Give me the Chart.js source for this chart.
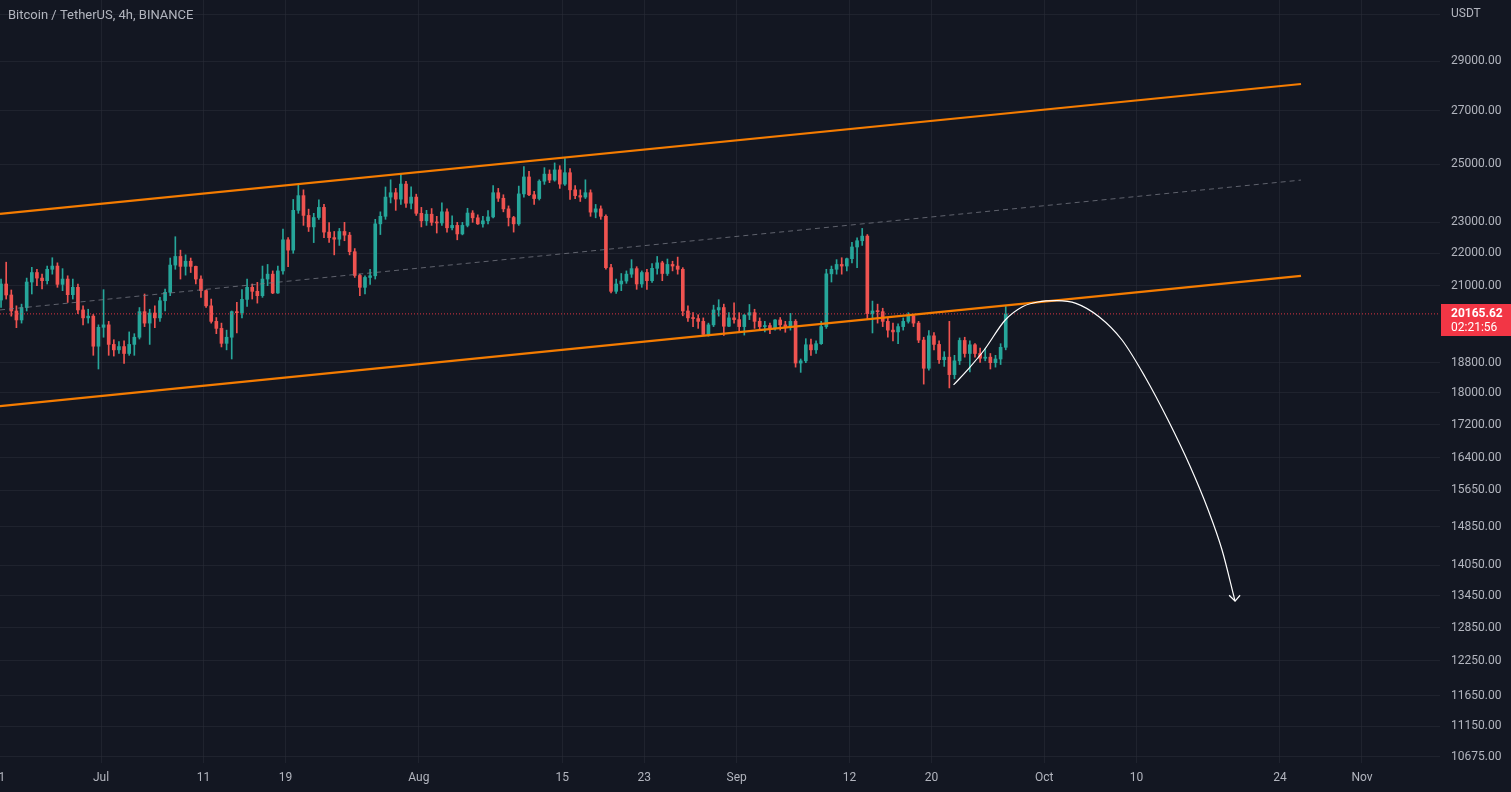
<!DOCTYPE html>
<html>
<head>
<meta charset="utf-8">
<script src="https://cdn.jsdelivr.net/npm/chart.js@4.4.1/dist/chart.umd.min.js"></script>
<style>
  html, body { margin: 0; padding: 0; background: #131722; }
  #wrap { width: 1511px; height: 792px; position: relative; }
</style>
</head>
<body>
<div id="wrap"><canvas id="c"></canvas></div>
<script>
// ---------------- DATA ----------------
const chartTitle = 'Bitcoin / TetherUS, 4h, BINANCE';
const currencyLabel = 'USDT';
const firstCandle = '2022-06-21T00:00:00Z';
const candleHours = 12;

const opens = [20570,21050,20720,20250,19990,20350,21110,21400,21230,21150,21500,21600,21040,21200,20730,20950,20280,20050,20100,19250,
19780,19850,19300,19150,19240,19050,19300,19500,20230,19900,20190,20050,20550,20800,21630,21900,21590,21750,21590,21200,
20850,20400,19950,19750,19330,19500,20230,20200,20590,20950,20830,20700,21200,21350,20780,21450,22430,22100,23400,23900,
23230,22850,23160,23500,22680,22500,22450,22700,22580,22050,21310,20950,21250,21300,22950,23200,23850,24000,23780,24300,
23640,23850,23300,23050,23270,23000,22980,23350,22820,22900,22620,22900,23310,23150,22950,23050,23180,24000,23810,23450,
23160,22950,23960,24550,23930,23800,24400,24650,24440,24800,24300,24700,24100,23900,23850,24000,23340,23450,23200,21550,
20830,21050,21140,21350,21520,21050,21400,21150,21530,21700,21370,21650,21600,21500,20250,20050,20030,19950,19580,19850,
20280,20350,19810,20050,20000,19800,20130,20200,19950,19800,19830,19750,19990,19850,19800,19950,18790,18850,19290,19150,
19320,19800,21360,21500,21650,21600,21830,22200,22400,22550,20170,20250,20230,19950,19700,19650,19800,19950,20110,19900,
19420,18650,19540,19300,18880,18950,18480,18850,19410,19050,19290,19050,18920,18950,18800,18900,19220];
const highs = [21200,21720,20870,20400,20450,21230,21560,21500,21350,21600,21860,21700,21520,21300,21200,21050,20400,20300,20150,19850,
20880,19950,19430,19380,19400,19650,19600,20350,20750,20300,20400,20650,20900,21850,22530,22100,21950,21850,21600,21300,
20870,20600,20060,19900,19700,20250,20500,20880,21200,21050,21100,21600,21650,21450,21600,22780,22500,23770,24280,24100,
23440,23300,23760,23600,22990,22700,22800,23000,22670,22150,21350,21300,21500,23100,23350,24200,24450,24150,24670,24400,
24200,23950,23500,23400,23460,23200,23650,23450,23220,23000,23000,23470,23390,23250,23200,23390,24250,24150,23930,23550,
23200,24230,24920,24750,24050,24450,24880,24800,25050,24950,25210,24850,24250,24100,24450,24100,23600,23550,23250,21650,
21200,21370,21450,21800,21580,21450,21500,21680,21900,21750,21820,21750,21880,21550,20400,20200,20140,20050,19900,20420,
20580,20450,20200,20490,20200,20150,20440,20300,20050,19950,19900,20000,20060,19950,20180,20000,18900,19460,19450,19400,
19950,21500,21600,21800,21860,21850,22350,22490,22800,22600,20540,20450,20330,20050,19900,19880,20050,20200,20150,19950,
19500,19690,19630,19400,19100,19950,19000,19480,19500,19400,19320,19200,19180,19050,19000,19320,20380];
const lows = [20350,20600,20100,19770,19900,20250,20750,21000,20900,21050,21350,20950,20850,20500,20600,20170,19850,19900,19000,18630,
19500,19000,18980,19050,18780,19000,19000,19450,19800,19300,19770,19950,20250,20700,21500,21200,21320,21400,21050,20650,
20350,19900,19600,19230,19150,18900,19620,20050,20380,20600,20480,20650,21000,20760,20770,21350,21580,22000,23300,22900,
22700,22340,23100,22500,22350,21950,22250,22400,21950,21250,20700,20750,21040,21200,22600,23100,23650,23400,23600,23500,
23450,23230,22850,22900,22900,22650,22900,22680,22750,22430,22590,22850,23000,22930,22840,22950,23150,23700,23350,22880,
22680,22900,23850,23900,23600,23750,24290,24350,24400,24150,24250,23770,23800,23700,23800,23200,23150,23100,21500,20780,
20770,20850,21070,21250,20890,20950,20890,21100,21350,21150,21310,21450,21350,20110,19950,19800,19750,19550,19530,19800,
20100,19550,19800,19900,19650,19560,20000,19750,19700,19650,19600,19700,19700,19640,19700,18680,18540,18800,19000,19050,
19300,19750,21110,21350,21350,21450,21700,21550,22250,20000,19620,19900,19800,19500,19400,19320,19700,19900,19800,19350,
18230,18600,19150,18780,18700,18130,18370,18750,18950,18550,18950,18810,18850,18630,18680,18750,19150];
const closes = [21050,20720,20250,19990,20350,21110,21400,21230,21150,21500,21600,21040,21200,20730,20950,20280,20050,20100,19250,19780,
19850,19300,19150,19240,19050,19300,19500,20230,19900,20190,20050,20550,20800,21630,21900,21590,21750,21590,21200,20850,
20400,19950,19750,19330,19500,20230,20200,20590,20950,20830,20700,21200,21350,20780,21450,22430,22100,23400,23900,23230,
22850,23160,23500,22680,22500,22450,22700,22580,22050,21310,20950,21250,21300,22950,23200,23850,24000,23780,24300,23640,
23850,23300,23050,23270,23000,22980,23350,22820,22900,22620,22900,23310,23150,22950,23050,23180,24000,23810,23450,23160,
22950,23960,24550,23930,23800,24400,24650,24440,24800,24300,24700,24100,23900,23850,24000,23340,23450,23200,21550,20830,
21050,21140,21350,21520,21050,21400,21150,21530,21700,21370,21650,21600,21500,20250,20050,20030,19950,19580,19850,20280,
20350,19810,20050,20000,19800,20130,20200,19950,19800,19830,19750,19990,19850,19800,19950,18790,18850,19290,19150,19320,
19800,21360,21500,21650,21600,21830,22200,22400,22550,20170,20250,20230,19950,19700,19650,19800,19950,20110,19900,19420,
18650,19540,19300,18880,18950,18480,18850,19410,19050,19290,19050,18920,18950,18800,18900,19220,20165.62];

const lastPrice = 20165.62;
const countdown = '02:21:56';

// time axis ticks
const xTickDates = ['2022-06-21','2022-07-01','2022-07-11','2022-07-19','2022-08-01','2022-08-15','2022-08-23',
  '2022-09-01','2022-09-12','2022-09-20','2022-10-01','2022-10-10','2022-10-24','2022-11-01'];
const xTickLabels = ['21','Jul','11','19','Aug','15','23','Sep','12','20','Oct','10','24','Nov'];
// price axis ticks
const yTickValues = [10675,11150,11650,12250,12850,13450,14050,14850,15650,16400,17200,18000,18800,21000,22000,23000,25000,27000,29000,31000];

// drawings
const upperChannel = [['2022-06-21T03:33:00Z', 23280], ['2022-10-26T01:12:00Z', 28058]];
const lowerChannel = [['2022-06-21T03:33:00Z', 17660], ['2022-10-26T01:12:00Z', 21300]];
const midChannel   = [['2022-06-21T03:33:00Z', 20280], ['2022-10-26T01:12:00Z', 24440]];
const forecastArc = [
  ['2022-09-22T03:50:00Z', 18208], ['2022-09-23T15:50:00Z', 18649], ['2022-09-25T03:36:00Z', 19146],
  ['2022-09-27T04:48:00Z', 19989], ['2022-09-28T21:07:00Z', 20375], ['2022-09-30T09:07:00Z', 20513],
  ['2022-10-02T05:46:00Z', 20551], ['2022-10-04T02:24:00Z', 20474], ['2022-10-06T08:24:00Z', 20083],
  ['2022-10-08T14:10:00Z', 19423], ['2022-10-10T19:55:00Z', 18425], ['2022-10-13T01:55:00Z', 17314],
  ['2022-10-15T05:17:00Z', 16207], ['2022-10-16T23:31:00Z', 15225], ['2022-10-18T08:24:00Z', 14364],
  ['2022-10-19T14:53:00Z', 13348]];
const arrowHead = [['2022-10-19T00:58:00Z', 13460], ['2022-10-19T14:53:00Z', 13348], ['2022-10-20T02:39:00Z', 13460]];

// visible range
const xRange = ['2022-06-21T03:33:00Z', '2022-11-08T14:37:00Z'];
const yRange = [10577, 31657];

// ---------------- BUILD ----------------
const ORIGIN = Date.UTC(2022, 6, 1);
const toDay = s => (Date.parse(s.length <= 10 ? s + 'T00:00:00Z' : s) - ORIGIN) / 86400000;
const startDay = toDay(firstCandle);
const times = closes.map((_, i) => startDay + (i + 0.5) * candleHours / 24);
const UP = '#26a69a', DOWN = '#ef5350';
const cols = closes.map((c, i) => c >= opens[i] ? UP : DOWN);
const pts = arr => arr.map(([t, v]) => ({ x: toDay(t), y: v }));

const xTickDays = xTickDates.map(toDay);
const labelFor = {};
xTickDays.forEach((d, i) => labelFor[d.toFixed(4)] = xTickLabels[i]);

const FONT = 'Roboto, "Open Sans", sans-serif';
const TEXT = '#b2b5be';
const GRID = 'rgba(42,46,57,0.55)';

const overlay = {
  id: 'overlay',
  afterDraw(chart) {
    const ctx = chart.ctx, y = chart.scales.y, area = chart.chartArea;
    ctx.save();
    ctx.font = '13px ' + FONT;
    ctx.fillStyle = TEXT;
    ctx.textBaseline = 'middle';
    ctx.textAlign = 'left';
    ctx.fillText(chartTitle, 8, 16);
    ctx.font = '12px ' + FONT;
    ctx.fillText(currencyLabel, area.right + 11, 14);
    const py = y.getPixelForValue(lastPrice);
    ctx.fillStyle = '#f23645';
    ctx.fillRect(area.right + 1, Math.round(py) - 10, chart.width - area.right - 1, 32);
    ctx.fillStyle = '#ffffff';
    ctx.font = 'bold 12px ' + FONT;
    ctx.fillText(lastPrice.toFixed(2), area.right + 11, py);
    ctx.font = '12px ' + FONT;
    ctx.fillText(countdown, area.right + 11, py + 14);
    ctx.restore();
  }
};

const bgPlugin = {
  id: 'bg',
  beforeDraw(chart) {
    const ctx = chart.ctx;
    ctx.save();
    ctx.fillStyle = '#131722';
    ctx.fillRect(0, 0, chart.width, chart.height);
    ctx.restore();
  }
};

new Chart(document.getElementById('c'), {
  type: 'bar',
  data: {
    datasets: [
      { type: 'line', label: 'arrow', data: pts(arrowHead), borderColor: '#ffffff', borderWidth: 1.2,
        pointRadius: 0, tension: 0, order: 1 },
      { type: 'line', label: 'arc', data: pts(forecastArc), borderColor: '#ffffff', borderWidth: 1.2,
        pointRadius: 0, cubicInterpolationMode: 'monotone', order: 1 },
      { type: 'line', label: 'upper', data: pts(upperChannel), borderColor: '#f57c00', borderWidth: 2.2,
        pointRadius: 0, order: 2 },
      { type: 'line', label: 'lower', data: pts(lowerChannel), borderColor: '#f57c00', borderWidth: 2.2,
        pointRadius: 0, order: 2 },
      { type: 'line', label: 'mid', data: pts(midChannel), borderColor: 'rgba(120,123,134,0.75)', borderWidth: 1,
        borderDash: [5, 4], pointRadius: 0, order: 3 },
      { type: 'line', label: 'last', data: [{ x: toDay(xRange[0]), y: lastPrice }, { x: toDay(xRange[1]), y: lastPrice }],
        borderColor: 'rgba(242,54,69,0.9)', borderWidth: 1, borderDash: [1, 2], pointRadius: 0, order: 4 },
      { label: 'bodies', data: times.map((t, i) => ({ x: t, y: [opens[i], closes[i]] })),
        backgroundColor: cols, borderWidth: 0, barThickness: 3, grouped: false, minBarLength: 1, order: 5 },
      { label: 'wicks', data: times.map((t, i) => ({ x: t, y: [lows[i], highs[i]] })),
        backgroundColor: cols, borderWidth: 0, barThickness: 1, grouped: false, order: 6 }
    ]
  },
  options: {
    responsive: true,
    maintainAspectRatio: false,
    animation: false,
    events: [],
    layout: { padding: 0 },
    plugins: { legend: { display: false }, tooltip: { enabled: false }, title: { display: false } },
    scales: {
      x: {
        type: 'linear',
        min: toDay(xRange[0]),
        max: toDay(xRange[1]),
        offset: false,
        border: { display: false },
        grid: { color: GRID, drawTicks: false, lineWidth: 1, offset: false },
        ticks: {
          autoSkip: false, maxRotation: 0, padding: 8, color: TEXT,
          font: { family: FONT, size: 12 },
          callback: v => labelFor[Number(v).toFixed(4)] ?? ''
        },
        afterBuildTicks: s => { s.ticks = xTickDays.map(v => ({ value: v })); },
        afterFit: s => { s.height = 29; s.paddingLeft = 0; s.paddingRight = 0; }
      },
      y: {
        type: 'logarithmic',
        position: 'right',
        min: yRange[0],
        max: yRange[1],
        border: { display: false },
        grid: { color: GRID, drawTicks: false, lineWidth: 1 },
        ticks: {
          autoSkip: false, padding: 11, color: TEXT,
          font: { family: FONT, size: 12 },
          callback: v => (v === 31000 ? '' : Number(v).toFixed(2))
        },
        afterBuildTicks: s => { s.ticks = yTickValues.map(v => ({ value: v })); },
        afterFit: s => { s.width = 71; s.paddingTop = 0; s.paddingBottom = 0; }
      }
    }
  },
  plugins: [bgPlugin, overlay]
});
</script>
</body>
</html>
